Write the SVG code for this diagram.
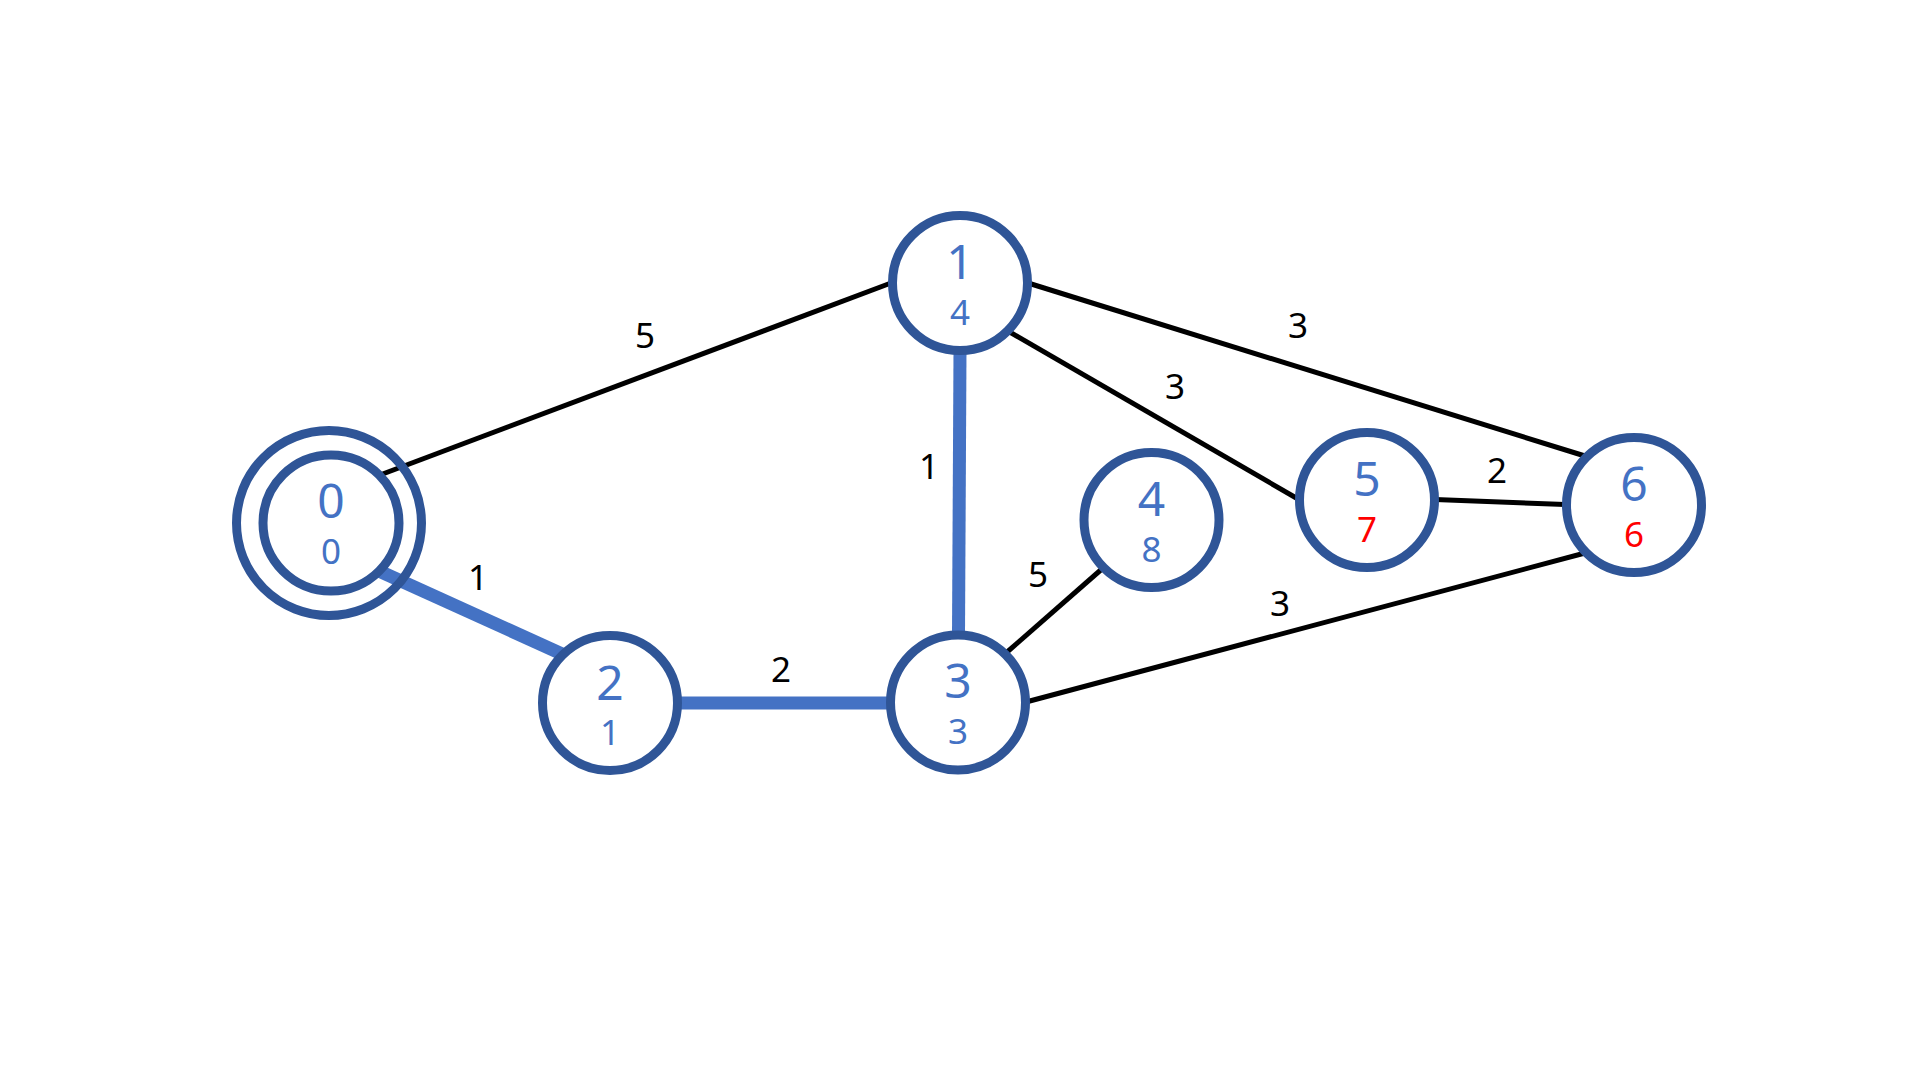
<svg xmlns="http://www.w3.org/2000/svg" width="1920" height="1080" viewBox="0 0 1920 1080">
<style>
.node{fill:#fff;stroke:#2F5597;stroke-width:9}
.ring{fill:none;stroke:#2F5597;stroke-width:9}
.e{stroke:#000;stroke-width:5;fill:none}
.h{stroke:#4472C4;stroke-width:13;fill:none}
.big{font-family:"Noto Sans","Open Sans",sans-serif;font-size:48px;fill:#4472C4;text-anchor:middle}
.small{font-family:"Noto Sans","Open Sans",sans-serif;font-size:35px;fill:#4472C4;text-anchor:middle}
.red{fill:#FF0000}
.lbl{font-family:"Noto Sans","Open Sans",sans-serif;font-size:35px;fill:#000;text-anchor:middle}
</style>
<rect width="1920" height="1080" fill="#fff"/>
<g id="connectors">
<line class="e" x1="380" y1="475" x2="891" y2="283"/>
<line class="e" x1="1008" y1="331" x2="1298" y2="499"/>
<line class="e" x1="1028" y1="283" x2="1585" y2="456"/>
<line class="e" x1="1435" y1="499.5" x2="1565" y2="504.5"/>
<line class="e" x1="1026" y1="702" x2="1585" y2="553"/>
<line class="e" x1="1006" y1="653" x2="1103" y2="568"/>
<line class="h" x1="379" y1="571" x2="562" y2="654"/>
<line class="h" x1="678" y1="703" x2="889" y2="703"/>
<line class="h" x1="960" y1="351" x2="958.5" y2="634"/>
<text class="lbl" x="645" y="348">5</text>
<text class="lbl" x="478" y="590">1</text>
<text class="lbl" x="781" y="682">2</text>
<text class="lbl" x="929" y="479">1</text>
<text class="lbl" x="1175" y="399">3</text>
<text class="lbl" x="1298" y="338">3</text>
<text class="lbl" x="1038" y="587">5</text>
<text class="lbl" x="1280" y="616">3</text>
<text class="lbl" x="1497" y="483">2</text>
</g>
<g id="node0">
<circle class="ring" cx="329" cy="523" r="92.5"/>
<circle class="node" cx="331" cy="523" r="68"/>
<text class="big" x="331" y="518">0</text>
<text class="small" x="331" y="564">0</text>
</g>
<g id="node1">
<circle class="node" cx="960" cy="283" r="67.5"/>
<text class="big" x="960" y="279">1</text>
<text class="small" x="960" y="325">4</text>
</g>
<g id="node2">
<circle class="node" cx="610" cy="703" r="67.5"/>
<text class="big" x="610" y="700">2</text>
<text class="small" x="610" y="745">1</text>
</g>
<g id="node3">
<circle class="node" cx="958" cy="702.5" r="67.5"/>
<text class="big" x="958" y="698">3</text>
<text class="small" x="958" y="744">3</text>
</g>
<g id="node4">
<circle class="node" cx="1151.5" cy="520" r="67.5"/>
<text class="big" x="1151.5" y="516">4</text>
<text class="small" x="1151.5" y="562">8</text>
</g>
<g id="node5">
<circle class="node" cx="1367" cy="500" r="67.5"/>
<text class="big" x="1367" y="496">5</text>
<text class="small red" x="1367" y="542">7</text>
</g>
<g id="node6">
<circle class="node" cx="1634" cy="505" r="67.5"/>
<text class="big" x="1634" y="501">6</text>
<text class="small red" x="1634" y="547">6</text>
</g>
</svg>
